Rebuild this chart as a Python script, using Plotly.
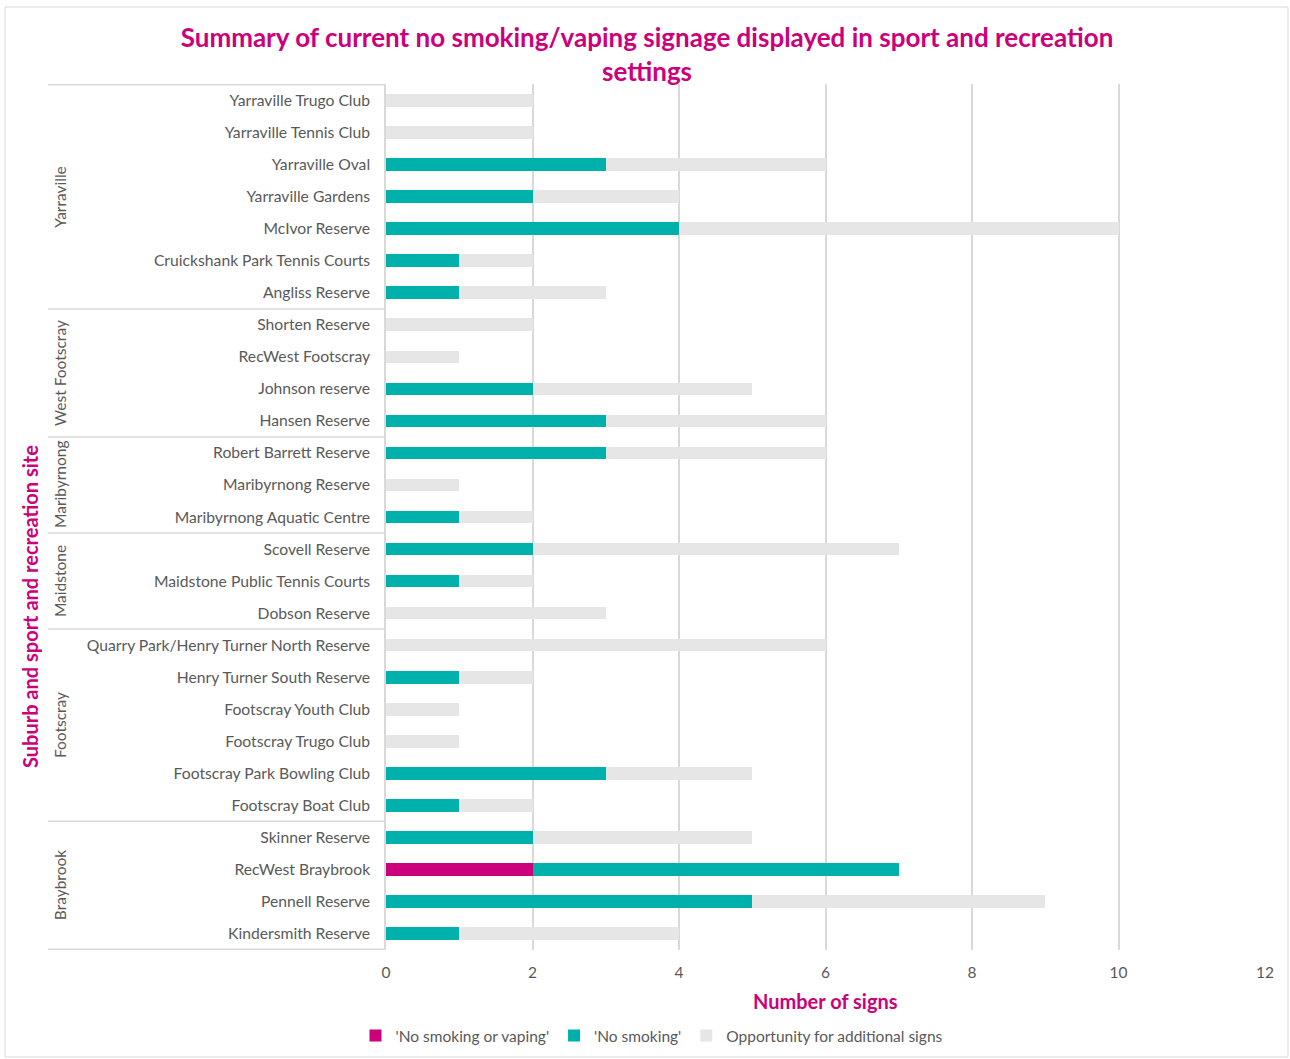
import plotly.graph_objects as go

suburbs = ["Yarraville"] * 7 + ["West Footscray"] * 4 + ["Maribyrnong"] * 3 + ["Maidstone"] * 3 + ["Footscray"] * 6 + ["Braybrook"] * 4
sites = [
    "Yarraville Trugo Club", "Yarraville Tennis Club", "Yarraville Oval", "Yarraville Gardens",
    "McIvor Reserve", "Cruickshank Park Tennis Courts", "Angliss Reserve",
    "Shorten Reserve", "RecWest Footscray", "Johnson reserve", "Hansen Reserve",
    "Robert Barrett Reserve", "Maribyrnong Reserve", "Maribyrnong Aquatic Centre",
    "Scovell Reserve", "Maidstone Public Tennis Courts", "Dobson Reserve",
    "Quarry Park/Henry Turner North Reserve", "Henry Turner South Reserve", "Footscray Youth Club",
    "Footscray Trugo Club", "Footscray Park Bowling Club", "Footscray Boat Club",
    "Skinner Reserve", "RecWest Braybrook", "Pennell Reserve", "Kindersmith Reserve",
]
no_smoking_or_vaping = [0, 0, 0, 0, 0, 0, 0, 0, 0, 0, 0, 0, 0, 0, 0, 0, 0, 0, 0, 0, 0, 0, 0, 0, 2, 0, 0]
no_smoking = [0, 0, 3, 2, 4, 1, 1, 0, 0, 2, 3, 3, 0, 1, 2, 1, 0, 0, 1, 0, 0, 3, 1, 2, 5, 5, 1]
opportunity = [2, 2, 3, 2, 6, 1, 2, 2, 1, 3, 3, 3, 1, 1, 5, 1, 3, 6, 1, 1, 1, 2, 1, 3, 0, 4, 3]
x_ticks = [0, 2, 4, 6, 8, 10, 12]

MAGENTA = "#CC007A"
TEAL = "#00B0AA"
GREY = "#E6E6E6"
TXT = "#595959"
LINE = "#D9D9D9"
FONT = "Lato"

fig = go.Figure()
for name, vals, col in [
    ("'No smoking or vaping'", no_smoking_or_vaping, MAGENTA),
    ("'No smoking'", no_smoking, TEAL),
    ("Opportunity for additional signs", opportunity, GREY),
]:
    fig.add_trace(go.Bar(
        y=sites, x=vals, name=name, orientation="h",
        marker=dict(color=col, line=dict(width=0)),
    ))

# Plot area pixel geometry
FW, FH = 1290, 1059
L, R, T, B = 386, 1265, 84, 950
W, H = R - L, B - T

def px_x(p):
    return (p - L) / W

def px_y(p):
    return (B - p) / H

shapes = []
boundaries = [0]
for i in range(1, len(suburbs)):
    if suburbs[i] != suburbs[i - 1]:
        boundaries.append(i)
boundaries.append(len(suburbs))
for b in boundaries:
    shapes.append(dict(type="line", xref="paper", yref="y", x0=px_x(48), x1=0,
                       y0=b - 0.5, y1=b - 0.5, line=dict(color=LINE, width=1.5)))
shapes.append(dict(type="rect", xref="paper", yref="paper", x0=px_x(5), x1=px_x(1288),
                   y0=px_y(1057), y1=px_y(7), line=dict(color=LINE, width=1)))

annotations = []
for gi in range(len(boundaries) - 1):
    a, b = boundaries[gi], boundaries[gi + 1]
    annotations.append(dict(xref="paper", yref="y", x=px_x(60), y=(a + b - 1) / 2,
                            xanchor="center", yanchor="middle",
                            text=suburbs[a], textangle=-90, showarrow=False,
                            font=dict(family=FONT, size=15.5, color=TXT)))
annotations.append(dict(xref="paper", yref="paper", x=px_x(30), y=px_y(607),
                        xanchor="center", yanchor="middle",
                        text="<b>Suburb and sport and recreation site</b>", textangle=-90,
                        showarrow=False, font=dict(family=FONT, size=20, color=MAGENTA)))
annotations.append(dict(xref="paper", yref="paper", x=px_x(825), y=px_y(1001),
                        xanchor="center", yanchor="middle",
                        text="<b>Number of signs</b>", showarrow=False,
                        font=dict(family=FONT, size=20, color=MAGENTA)))

fig.update_layout(
    barmode="stack",
    bargap=0.6,
    width=FW, height=FH,
    margin=dict(l=L, r=FW - R, t=T, b=FH - B, autoexpand=False),
    paper_bgcolor="white", plot_bgcolor="white",
    font=dict(family=FONT, size=15, color=TXT),
    title=dict(text="<b>Summary of current no smoking/vaping signage displayed in sport and recreation<br>settings</b>",
               x=647 / FW, xanchor="center", y=1 - 47 / FH, yanchor="middle",
               font=dict(family=FONT, size=26, color=MAGENTA)),
    xaxis=dict(range=[0, 12], tickvals=x_ticks, showgrid=True, gridcolor=LINE, gridwidth=1.5,
               zeroline=False, showline=False, tickfont=dict(size=15.5, color=TXT),
               ticklabelstandoff=11, fixedrange=True),
    yaxis=dict(autorange="reversed", showgrid=False, showline=True, linecolor=LINE, linewidth=1.5,
               tickfont=dict(size=15.7, color=TXT), ticklabelstandoff=11, ticks=""),
    legend=dict(orientation="h", x=px_x(652), xanchor="center", y=px_y(1036), yanchor="middle",
                bgcolor="rgba(0,0,0,0)",
                font=dict(family=FONT, size=15.5, color=TXT), traceorder="normal"),
    shapes=shapes,
    annotations=annotations,
)

fig.write_html("out.html")
